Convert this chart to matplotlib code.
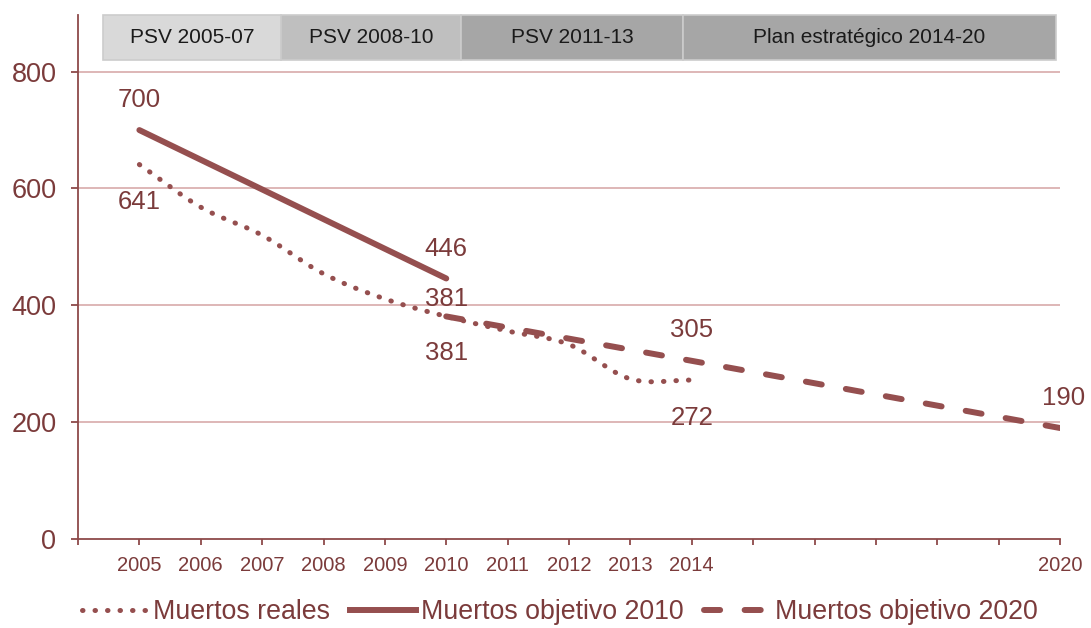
import matplotlib
matplotlib.use("Agg")
import numpy as np
import matplotlib.pyplot as plt
from matplotlib.patches import Rectangle
from matplotlib.lines import Line2D

plt.rcParams['font.family'] = ['Liberation Sans', 'DejaVu Sans']

# Series
years_real = [2005, 2006, 2007, 2008, 2009, 2010, 2011, 2012, 2013, 2014]
deaths_real = [641, 568, 520, 454, 411, 381, 356, 333, 274, 272]

years_obj2010 = [2005, 2010]
deaths_obj2010 = [700, 446]

years_obj2020 = [2010, 2014, 2020]
deaths_obj2020 = [381, 305, 190]

# Axis categories
all_years = list(range(2004, 2021))
shown_years = [2005, 2006, 2007, 2008, 2009, 2010, 2011, 2012, 2013, 2014, 2020]
y_ticks = [0, 200, 400, 600, 800]

# Plan periods shown across the top
plans = ["PSV 2005-07", "PSV 2008-10", "PSV 2011-13", "Plan estratégico 2014-20"]
plan_edges = [2004.40, 2007.31, 2010.24, 2013.86, 2019.93]
plan_colors = ["#D9D9D9", "#BFBFBF", "#A6A6A6", "#A6A6A6"]

LINE = "#954F4F"
TEXT = "#7B3B3B"
GRID = "#D8AAAA"
AXIS = "#8E4A4A"

DOT = (0, (0.1, 2.4))
DASH = (0, (2.7, 4.1))

fig = plt.figure(figsize=(10.91, 6.28), dpi=100)
ax = fig.add_axes([78 / 1091, 1 - 539 / 628, (1060 - 78) / 1091, (539 - 15) / 628])

ax.set_xlim(2004, 2020)
ax.set_ylim(0, 897)

for v in y_ticks[1:]:
    ax.axhline(v, color=GRID, lw=1.2, zorder=1)


def smooth(xs, ys, n=20):
    """Catmull-Rom curve through the given points."""
    xs = np.asarray(xs, float)
    ys = np.asarray(ys, float)
    px = np.concatenate([[2 * xs[0] - xs[1]], xs, [2 * xs[-1] - xs[-2]]])
    py = np.concatenate([[2 * ys[0] - ys[1]], ys, [2 * ys[-1] - ys[-2]]])
    ox, oy = [], []
    t = np.linspace(0, 1, n, endpoint=False)
    for i in range(1, len(px) - 2):
        for arr, out in ((px, ox), (py, oy)):
            p0, p1, p2, p3 = arr[i - 1], arr[i], arr[i + 1], arr[i + 2]
            out.extend(0.5 * ((2 * p1) + (-p0 + p2) * t
                              + (2 * p0 - 5 * p1 + 4 * p2 - p3) * t ** 2
                              + (-p0 + 3 * p1 - 3 * p2 + p3) * t ** 3))
    ox.append(xs[-1])
    oy.append(ys[-1])
    return ox, oy


sx, sy = smooth(years_real, deaths_real)
ax.plot(sx, sy, color=LINE, lw=3.6, linestyle=DOT,
        dash_capstyle='round', zorder=3)
ax.plot(years_obj2010, deaths_obj2010, color=LINE, lw=4.3,
        solid_capstyle='round', zorder=3)
ax.plot(years_obj2020, deaths_obj2020, color=LINE, lw=4.3, linestyle=DASH,
        dash_capstyle='round', zorder=3)

# Value labels
lab_kw = dict(color=TEXT, fontsize=18.5, ha='center', va='center', zorder=5)
ax.text(2005, 700 + 52, f"{deaths_obj2010[0]}", **lab_kw)
ax.text(2005, 641 - 64, f"{deaths_real[0]}", **lab_kw)
ax.text(2010, 446 + 50, f"{deaths_obj2010[1]}", **lab_kw)
ax.text(2010, 381 + 29, f"{deaths_obj2020[0]}", **lab_kw)
ax.text(2010, 381 - 63, f"{deaths_real[5]}", **lab_kw)
ax.text(2014, 305 + 53, f"{deaths_obj2020[1]}", **lab_kw)
ax.text(2014, 272 - 65, f"{deaths_real[-1]}", **lab_kw)
ax.text(2020.05, 190 + 52, f"{deaths_obj2020[2]}", **lab_kw)

# Axes styling
for s in ("top", "right"):
    ax.spines[s].set_visible(False)
for s in ("left", "bottom"):
    ax.spines[s].set_color(AXIS)
    ax.spines[s].set_linewidth(1.3)

ax.set_yticks(y_ticks)
ax.set_yticklabels([str(v) for v in y_ticks])
ax.set_xticks(all_years)
ax.set_xticklabels([str(y) if y in shown_years else "" for y in all_years])
ax.tick_params(axis='y', colors=AXIS, labelcolor=TEXT, labelsize=19.5,
               length=5, width=1.3, pad=10.5)
ax.tick_params(axis='x', colors=AXIS, labelcolor=TEXT, labelsize=14.5,
               length=4, width=1.3, pad=8)

# Plan period boxes
for name, x0, x1, c in zip(plans, plan_edges[:-1], plan_edges[1:], plan_colors):
    ax.add_patch(Rectangle((x0, 820), x1 - x0, 77, facecolor=c, edgecolor="#CCCCCC",
                           lw=1.2, zorder=4, clip_on=False))
    ax.text((x0 + x1) / 2, 858, name, ha='center', va='center', fontsize=15,
            color="#1A1A1A", zorder=5)

# Legend
handles = [
    Line2D([], [], color=LINE, lw=3.6, linestyle=DOT, dash_capstyle='round'),
    Line2D([], [], color=LINE, lw=4.3),
    Line2D([], [], color=LINE, lw=4.3, linestyle=DASH, dash_capstyle='round'),
]
fig.legend(handles, ["Muertos reales", "Muertos objetivo 2010", "Muertos objetivo 2020"],
           loc='center', bbox_to_anchor=(560 / 1091, 1 - 612 / 628), ncol=3, frameon=False,
           fontsize=19.3, labelcolor=TEXT, handlelength=2.45, handletextpad=0.2,
           columnspacing=0.75, borderpad=0, borderaxespad=0)

fig.savefig("out.png", dpi=100)
